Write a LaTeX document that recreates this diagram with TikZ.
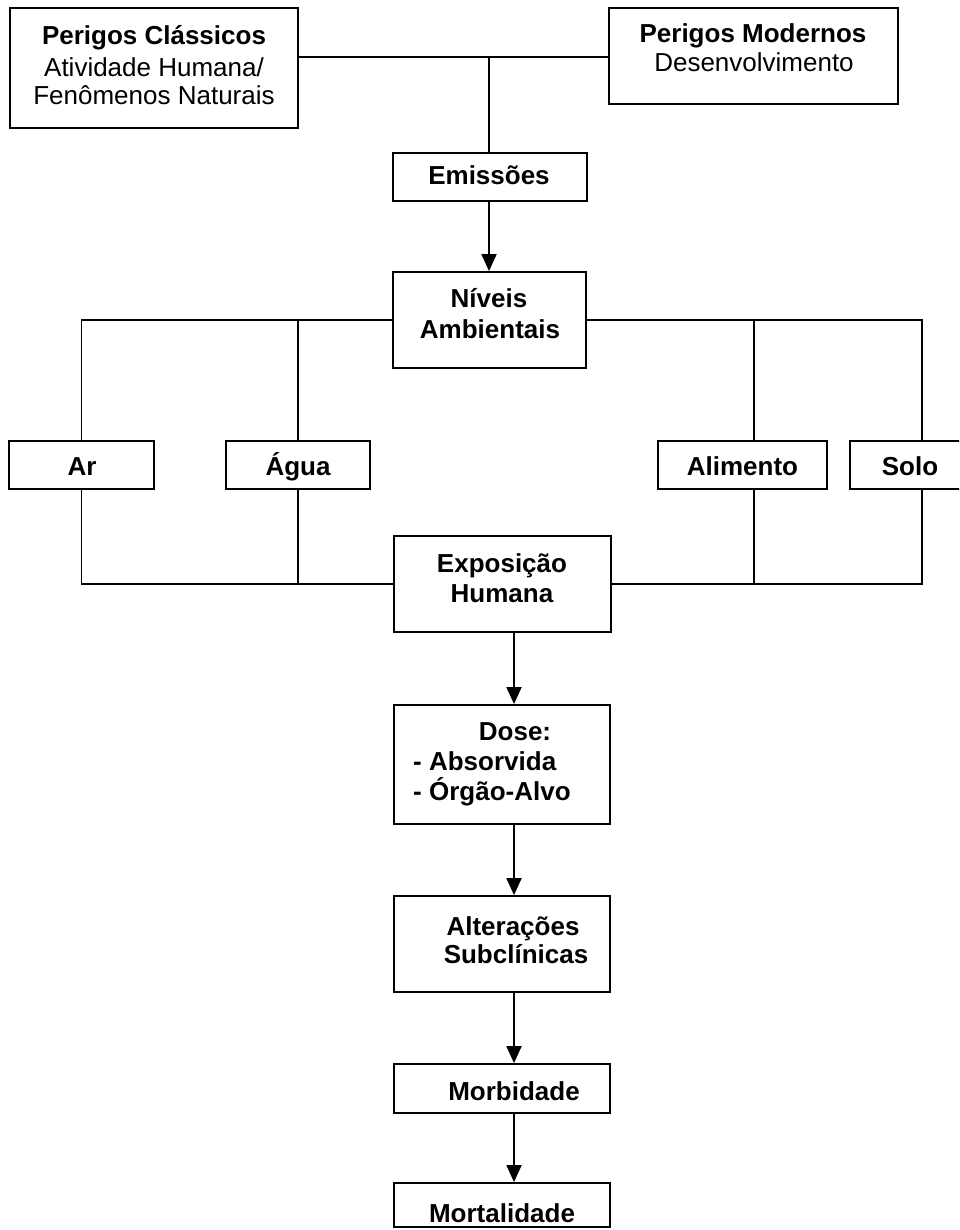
\documentclass[tikz,border=0pt]{standalone}
\usepackage{fontspec}
\setmainfont{Liberation Sans}
\usetikzlibrary{arrows.meta}
\begin{document}
\begin{tikzpicture}[x=1pt,y=-1pt,
  box/.style={draw, line width=1.8pt, inner sep=0pt},
  lbl/.style={anchor=base, inner sep=0pt, font=\fontsize{26}{30}\selectfont\bfseries},
  lblr/.style={anchor=base, inner sep=0pt, font=\fontsize{26}{30}\selectfont},
  link/.style={line width=1.8pt},
  arr/.style={link, -{Triangle[length=17pt,width=15pt]}}]
\clip (0,0) rectangle (959,1230);

% boxes
\node[box, minimum width=288pt, minimum height=120pt] (pc) at (154,68) {};
\node[box, minimum width=289pt, minimum height=96pt] (pm) at (753.5,56) {};
\node[box, minimum width=194pt, minimum height=48pt] (em) at (490,177) {};
\node[box, minimum width=193pt, minimum height=96pt] (na) at (489.5,320) {};
\node[box, minimum width=145pt, minimum height=48pt] (ar) at (81.5,465) {};
\node[box, minimum width=144pt, minimum height=48pt] (ag) at (298,465) {};
\node[box, minimum width=169pt, minimum height=48pt] (al) at (742.5,465) {};
\node[box, minimum width=120pt, minimum height=48pt] (so) at (910,465) {};
\node[box, minimum width=217pt, minimum height=96pt] (ex) at (502.5,584) {};
\node[box, minimum width=216pt, minimum height=119pt] (do) at (502,764.5) {};
\node[box, minimum width=216pt, minimum height=96pt] (at) at (502,944) {};
\node[box, minimum width=216pt, minimum height=49pt] (mb) at (502,1088.5) {};
\node[box, minimum width=216pt, minimum height=44pt] (mt) at (502,1205) {};

% texts
\node[lbl]  (pc1) at (154,45) {Perigos Clássicos};
\node[lblr] (pc2) at (154,77) {Atividade Humana/};
\node[lblr] (pc3) at (154,105) {Fenômenos Naturais};
\node[lbl]  (pm1) at (753,43) {Perigos Modernos};
\node[lblr] (pm2) at (754,72) {Desenvolvimento};
\node[lbl]  (em1) at (489,185) {Emissões};
\node[lbl]  (na1) at (489,307) {Níveis};
\node[lbl]  (na2) at (490,338) {Ambientais};
\node[lbl]  (ar1) at (82,475) {Ar};
\node[lbl]  (ag1) at (298,475) {Água};
\node[lbl]  (al1) at (742.5,475) {Alimento};
\node[lbl]  (so1) at (910,475) {Solo};
\node[lbl]  (ex1) at (502,572) {Exposição};
\node[lbl]  (ex2) at (502,602) {Humana};
\node[lbl]  (do1) at (515,740) {Dose:};
\node[lbl, anchor=base west] (do2) at (413,770) {- Absorvida};
\node[lbl, anchor=base west] (do3) at (413,800) {- Órgão-Alvo};
\node[lbl]  (at1) at (513,935) {Alterações};
\node[lbl]  (at2) at (516,963) {Subclínicas};
\node[lbl]  (mb1) at (514,1100) {Morbidade};
\node[lbl]  (mt1) at (502,1222) {Mortalidade};

% junction points
\coordinate (j1) at (489,57);
\coordinate (alx) at (754,0);
\coordinate (sox) at (922,0);
\coordinate (ax) at (514,0);

% hazards to emissions
\draw[link] (j1 -| pc.east) -- (j1 -| pm.west);
\draw[link] (j1) -- (em.north -| j1);
\draw[arr] (em.south -| j1) -- (na.north -| j1);

% environmental levels to media
\draw[link] (na.west) -| (ar.north);
\draw[link] (na.west -| ag.north) -- (ag.north);
\draw[link] (na.east) -| (sox |- so.north);
\draw[link] (na.east -| alx) -- (alx |- al.north);

% media to human exposure
\draw[link] (ar.south) |- (ex.west);
\draw[link] (ag.south) -- (ag.south |- ex.west);
\draw[link] (sox |- so.south) |- (ex.east);
\draw[link] (alx |- al.south) -- (alx |- ex.east);

% effect chain
\draw[arr] (ax |- ex.south) -- (ax |- do.north);
\draw[arr] (ax |- do.south) -- (ax |- at.north);
\draw[arr] (ax |- at.south) -- (ax |- mb.north);
\draw[arr] (ax |- mb.south) -- (ax |- mt.north);
\end{tikzpicture}
\end{document}
